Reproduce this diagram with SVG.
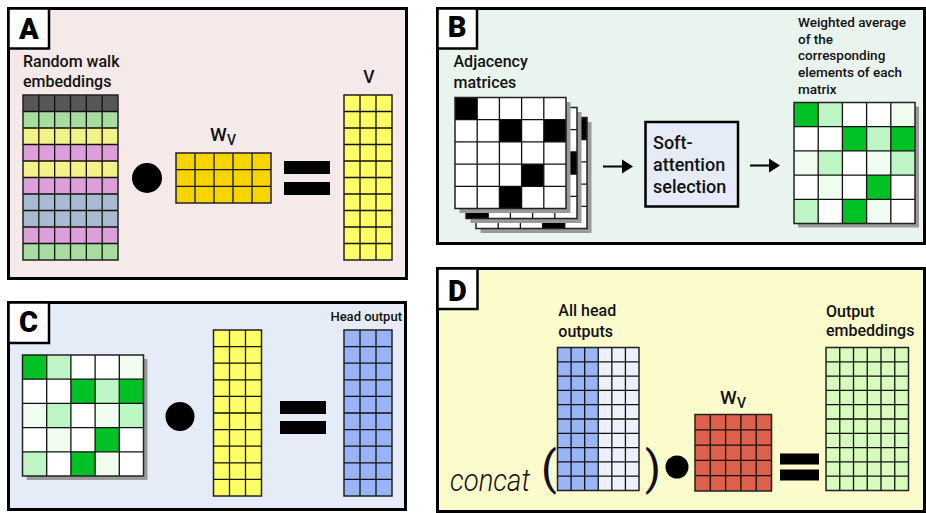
<svg xmlns="http://www.w3.org/2000/svg" xmlns:xlink="http://www.w3.org/1999/xlink" width="926" height="513" viewBox="0 0 926 513">
  <style>
    .panel { stroke: #000; stroke-width: 3; }
    .tag { fill: #fff; stroke: #000; stroke-width: 2.5; }
    .tagtxt { font-family: Roboto, "Liberation Sans", sans-serif; font-weight: 900; font-size: 29px; text-anchor: middle; fill: #000; }
    .lbl { font-family: Roboto, "Liberation Sans", sans-serif; font-weight: 500; font-size: 16px; fill: #111; }
    .sm { font-size: 13.5px; }
    .grid { fill: none; stroke: #111; stroke-width: 1.3; }
    .frame { fill: none; stroke: #222; stroke-width: 1.5; }
    .shadow { fill: #9a9a9a; }
    .bar { fill: #000; }
    .dk { fill: #00c227; }
    .lt { fill: #bdf5c4; }
    .vl { fill: #effcef; }
    .blk { fill: #000; }
    .paren { font-family: Roboto, "Liberation Sans", sans-serif; font-weight: 400; font-size: 46px; fill: #111; }
  </style>
  <defs>
    <!-- 5x5 weighted adjacency matrix (green intensities) -->
    <g id="wmat">
      <rect class="shadow" x="4" y="4" width="121" height="121"/>
      <rect x="0" y="0" width="121" height="121" fill="#fff"/>
      <rect class="dk" x="0" y="0" width="24.2" height="24.2"/>
      <rect class="lt" x="24.2" y="0" width="24.2" height="24.2"/>
      <rect class="vl" x="96.8" y="0" width="24.2" height="24.2"/>
      <rect class="dk" x="48.4" y="24.2" width="24.2" height="24.2"/>
      <rect class="lt" x="72.6" y="24.2" width="24.2" height="24.2"/>
      <rect class="dk" x="96.8" y="24.2" width="24.2" height="24.2"/>
      <rect class="vl" x="0" y="48.4" width="24.2" height="24.2"/>
      <rect class="lt" x="24.2" y="48.4" width="24.2" height="24.2"/>
      <rect class="vl" x="72.6" y="48.4" width="24.2" height="24.2"/>
      <rect class="lt" x="96.8" y="48.4" width="24.2" height="24.2"/>
      <rect class="vl" x="24.2" y="72.6" width="24.2" height="24.2"/>
      <rect class="dk" x="72.6" y="72.6" width="24.2" height="24.2"/>
      <rect class="lt" x="0" y="96.8" width="24.2" height="24.2"/>
      <rect class="dk" x="48.4" y="96.8" width="24.2" height="24.2"/>
      <rect class="vl" x="72.6" y="96.8" width="24.2" height="24.2"/>
      <path class="grid" d="M24.2 0V121M48.4 0V121M72.6 0V121M96.8 0V121M0 24.2H121M0 48.4H121M0 72.6H121M0 96.8H121"/>
      <rect class="frame" x="0" y="0" width="121" height="121"/>
    </g>
    <!-- blank 5x5 binary adjacency grid -->
    <g id="adjgrid">
      <path class="grid" d="M22.2 0V111M44.4 0V111M66.6 0V111M88.8 0V111M0 22.2H111M0 44.4H111M0 66.6H111M0 88.8H111"/>
      <rect class="frame" x="0" y="0" width="111" height="111"/>
    </g>
    <g id="layerbase">
      <rect class="shadow" x="4.5" y="4.5" width="111" height="111"/>
      <rect x="0" y="0" width="111" height="111" fill="#fff"/>
    </g>
  </defs>

  <!-- ========== Panel A ========== -->
  <g id="panelA">
    <rect class="panel" x="8.5" y="8.5" width="398" height="270" fill="#f5e9ea"/>
    <rect class="tag" x="8.5" y="8.5" width="40.5" height="40"/>
    <text class="tagtxt" x="28.8" y="39.3">A</text>
  </g>

  <g id="rw-embeddings">
    <text class="lbl" x="23" y="67">Random walk</text>
    <text class="lbl" x="23" y="86.5">embeddings</text>
    <rect x="23" y="95" width="95" height="16.5" fill="#575757"/>
    <rect x="23" y="111.5" width="95" height="16.5" fill="#a8dca0"/>
    <rect x="23" y="128" width="95" height="16.5" fill="#f2f289"/>
    <rect x="23" y="144.5" width="95" height="16.5" fill="#dd9fd9"/>
    <rect x="23" y="161" width="95" height="16.5" fill="#f2f289"/>
    <rect x="23" y="177.5" width="95" height="16.5" fill="#dd9fd9"/>
    <rect x="23" y="194" width="95" height="16.5" fill="#a9bbd0"/>
    <rect x="23" y="210.5" width="95" height="16.5" fill="#a9bbd0"/>
    <rect x="23" y="227" width="95" height="16.5" fill="#dd9fd9"/>
    <rect x="23" y="243.5" width="95" height="16.5" fill="#a8dca0"/>
    <path class="grid" d="M38.83 95V260M54.67 95V260M70.5 95V260M86.33 95V260M102.17 95V260M23 111.5H118M23 128H118M23 144.5H118M23 161H118M23 177.5H118M23 194H118M23 210.5H118M23 227H118M23 243.5H118"/>
    <rect class="frame" x="23" y="95" width="95" height="165"/>
  </g>

  <g id="dotA"><circle cx="147" cy="178" r="15" fill="#000"/></g>

  <g id="wv-A">
    <text class="lbl" x="210" y="140.7" style="font-size:19px">W</text>
    <text class="lbl" x="227" y="145" style="font-size:14px">V</text>
    <rect x="176" y="153" width="95" height="50" fill="#f5d400"/>
    <path class="grid" d="M195 153V203M214 153V203M233 153V203M252 153V203M176 169.67H271M176 186.33H271"/>
    <rect class="frame" x="176" y="153" width="95" height="50"/>
  </g>

  <g id="eqA">
    <rect class="bar" x="284" y="161" width="46" height="13"/>
    <rect class="bar" x="284" y="182" width="46" height="13"/>
  </g>

  <g id="v-A">
    <text class="lbl" x="369" y="83.3" text-anchor="middle" style="font-size:17.5px">V</text>
    <rect x="344" y="95" width="48" height="165" fill="#ffff66"/>
    <path class="grid" d="M360 95V260M376 95V260M344 111.5H392M344 128H392M344 144.5H392M344 161H392M344 177.5H392M344 194H392M344 210.5H392M344 227H392M344 243.5H392"/>
    <rect class="frame" x="344" y="95" width="48" height="165"/>
  </g>

  <!-- ========== Panel B ========== -->
  <g id="panelB">
    <rect class="panel" x="437.5" y="8.5" width="487" height="235" fill="#e9f4ef"/>
    <rect class="tag" x="437.5" y="8.5" width="39.5" height="40"/>
    <text class="tagtxt" x="457" y="37.3">B</text>
  </g>

  <g id="adjacency">
    <text class="lbl" x="453.5" y="67">Adjacency</text>
    <text class="lbl" x="453.5" y="87.5">matrices</text>
    <g transform="translate(476 117.5)">
      <use xlink:href="#layerbase"/>
      <rect class="blk" x="88.8" y="0" width="22.2" height="22.2"/>
      <rect class="blk" x="66.6" y="88.8" width="22.2" height="22.2"/>
      <rect class="blk" x="22.2" y="44.4" width="22.2" height="22.2"/>
      <use xlink:href="#adjgrid"/>
    </g>
    <g transform="translate(466 107.5)">
      <use xlink:href="#layerbase"/>
      <rect class="blk" x="88.8" y="44.4" width="22.2" height="22.2"/>
      <rect class="blk" x="0" y="88.8" width="22.2" height="22.2"/>
      <rect class="blk" x="44.4" y="22.2" width="22.2" height="22.2"/>
      <use xlink:href="#adjgrid"/>
    </g>
    <g transform="translate(455 97.5)">
      <use xlink:href="#layerbase"/>
      <rect class="blk" x="0" y="0" width="22.2" height="22.2"/>
      <rect class="blk" x="44.4" y="22.2" width="22.2" height="22.2"/>
      <rect class="blk" x="88.8" y="22.2" width="22.2" height="22.2"/>
      <rect class="blk" x="66.6" y="66.6" width="22.2" height="22.2"/>
      <rect class="blk" x="44.4" y="88.8" width="22.2" height="22.2"/>
      <use xlink:href="#adjgrid"/>
    </g>
  </g>

  <g id="softattention">
    <rect x="645.5" y="122" width="92.5" height="84.5" fill="#e6ebf8" stroke="#000" stroke-width="2.5"/>
    <text class="lbl" x="653" y="148.5" style="font-size:18px">Soft-</text>
    <text class="lbl" x="653" y="170.5" style="font-size:18px">attention</text>
    <text class="lbl" x="653" y="192.5" style="font-size:18px">selection</text>
  </g>

  <g id="weighted">
    <text class="lbl sm" x="798" y="26.7">Weighted average</text>
    <text class="lbl sm" x="798" y="43.5">of the</text>
    <text class="lbl sm" x="798" y="60.3">corresponding</text>
    <text class="lbl sm" x="798" y="77">elements of each</text>
    <text class="lbl sm" x="798" y="93.8">matrix</text>
    <use xlink:href="#wmat" x="794" y="102.5"/>
  </g>

  <!-- ========== Panel C ========== -->
  <g id="panelC">
    <rect class="panel" x="8.5" y="302.5" width="397" height="207" fill="#e6ebf8"/>
    <rect class="tag" x="8.5" y="302.5" width="40.5" height="40.5"/>
    <text class="tagtxt" x="28.5" y="332.3">C</text>
  </g>

  <g id="wmat-C"><use xlink:href="#wmat" x="22.5" y="355"/></g>

  <g id="dotC"><circle cx="180" cy="416.5" r="14.5" fill="#000"/></g>

  <g id="v-C">
    <rect x="213.5" y="330" width="48" height="166" fill="#ffff66"/>
    <path class="grid" d="M229.5 330V496M245.5 330V496M213.5 346.6H261.5M213.5 363.2H261.5M213.5 379.8H261.5M213.5 396.4H261.5M213.5 413H261.5M213.5 429.6H261.5M213.5 446.2H261.5M213.5 462.8H261.5M213.5 479.4H261.5"/>
    <rect class="frame" x="213.5" y="330" width="48" height="166"/>
  </g>

  <g id="eqC">
    <rect class="bar" x="280" y="401" width="46" height="13"/>
    <rect class="bar" x="280" y="421" width="46" height="13"/>
  </g>

  <g id="head-output">
    <text class="lbl" x="402" y="321" text-anchor="end" style="font-size:13px">Head output</text>
    <rect x="344" y="330" width="48" height="166" fill="#99b4f7"/>
    <path class="grid" d="M360 330V496M376 330V496M344 346.6H392M344 363.2H392M344 379.8H392M344 396.4H392M344 413H392M344 429.6H392M344 446.2H392M344 462.8H392M344 479.4H392"/>
    <rect class="frame" x="344" y="330" width="48" height="166"/>
  </g>

  <!-- ========== Panel D ========== -->
  <g id="panelD">
    <rect class="panel" x="437.5" y="268.5" width="487" height="243" fill="#fcfbcc"/>
    <rect class="tag" x="437.5" y="268.5" width="40" height="40.5"/>
    <text class="tagtxt" x="457.5" y="300.7">D</text>
  </g>

  <g id="concat">
    <text x="450" y="490.5" textLength="80" lengthAdjust="spacingAndGlyphs" style="font-family:Roboto,'Liberation Sans',sans-serif;font-style:italic;font-weight:300;font-size:32px;fill:#111">concat</text>
    <text class="paren" x="541" y="484">(</text>
    <text class="paren" x="645" y="484">)</text>
  </g>

  <g id="all-heads">
    <text class="lbl" x="558.3" y="316">All head</text>
    <text class="lbl" x="558.3" y="337.3">outputs</text>
    <rect x="557.5" y="347.5" width="40.75" height="143" fill="#99b4f7"/>
    <rect x="598.25" y="347.5" width="40.75" height="143" fill="#edf1fd"/>
    <path class="grid" d="M571.08 347.5V490.5M584.67 347.5V490.5M598.25 347.5V490.5M611.83 347.5V490.5M625.42 347.5V490.5M557.5 361.8H639M557.5 376.1H639M557.5 390.4H639M557.5 404.7H639M557.5 419H639M557.5 433.3H639M557.5 447.6H639M557.5 461.9H639M557.5 476.2H639"/>
    <rect class="frame" x="557.5" y="347.5" width="81.5" height="143"/>
  </g>

  <g id="dotD"><circle cx="677" cy="467" r="11.5" fill="#000"/></g>

  <g id="wv-D">
    <text class="lbl" x="720" y="403.5" style="font-size:19px">W</text>
    <text class="lbl" x="737" y="407.5" style="font-size:14px">V</text>
    <rect x="695" y="414.5" width="76.5" height="76.5" fill="#dc604b"/>
    <path class="grid" d="M710.3 414.5V491M725.6 414.5V491M740.9 414.5V491M756.2 414.5V491M695 429.8H771.5M695 445.1H771.5M695 460.4H771.5M695 475.7H771.5"/>
    <rect class="frame" x="695" y="414.5" width="76.5" height="76.5"/>
  </g>

  <g id="eqD">
    <rect class="bar" x="780" y="453.5" width="39" height="11"/>
    <rect class="bar" x="780" y="469.5" width="39" height="11"/>
  </g>

  <g id="output-embeddings">
    <text class="lbl" x="826" y="316.5">Output</text>
    <text class="lbl" x="826" y="336">embeddings</text>
    <rect x="826" y="347.5" width="82.5" height="143" fill="#d7fcbb"/>
    <path class="grid" d="M839.75 347.5V490.5M853.5 347.5V490.5M867.25 347.5V490.5M881 347.5V490.5M894.75 347.5V490.5M826 361.8H908.5M826 376.1H908.5M826 390.4H908.5M826 404.7H908.5M826 419H908.5M826 433.3H908.5M826 447.6H908.5M826 461.9H908.5M826 476.2H908.5"/>
    <rect class="frame" x="826" y="347.5" width="82.5" height="143"/>
  </g>

  <!-- arrows between adjacency stack, selection and result -->
  <g id="connectors">
    <path d="M603 166.5H624" stroke="#000" stroke-width="2"/>
    <path d="M622 159.5L633 166.5L622 173.5Z" fill="#000"/>
    <path d="M750 165.5H771" stroke="#000" stroke-width="2"/>
    <path d="M769 158.5L780 165.5L769 172.5Z" fill="#000"/>
  </g>
</svg>
